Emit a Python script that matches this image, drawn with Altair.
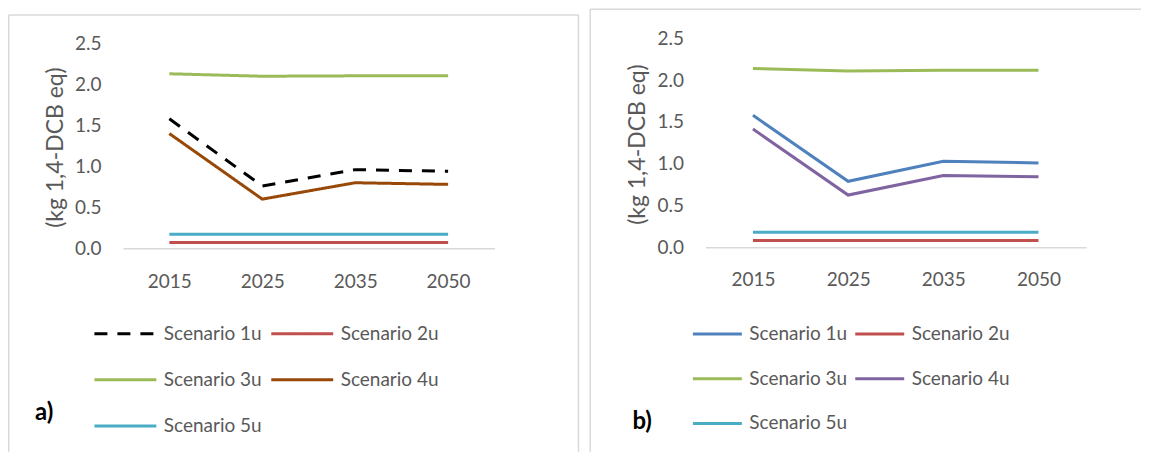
import altair as alt
import pandas as pd

years = ["2015", "2025", "2035", "2050"]
scenarios = ["Scenario 1u", "Scenario 2u", "Scenario 3u", "Scenario 4u", "Scenario 5u"]

# Panel a) values
a_s1 = [1.58, 0.76, 0.96, 0.94]
a_s2 = [0.07, 0.07, 0.07, 0.07]
a_s3 = [2.13, 2.10, 2.105, 2.105]
a_s4 = [1.40, 0.60, 0.80, 0.78]
a_s5 = [0.17, 0.17, 0.17, 0.17]

# Panel b) values
b_s1 = [1.58, 0.79, 1.03, 1.01]
b_s2 = [0.08, 0.08, 0.08, 0.08]
b_s3 = [2.14, 2.11, 2.12, 2.12]
b_s4 = [1.415, 0.625, 0.86, 0.845]
b_s5 = [0.18, 0.18, 0.18, 0.18]

y_ticks = [0.0, 0.5, 1.0, 1.5, 2.0, 2.5]
y_title = "(kg 1,4-DCB eq)"

colors_a = ["#000000", "#C0504D", "#9BBB59", "#984807", "#4BACC6"]
colors_b = ["#4F81BD", "#C0504D", "#9BBB59", "#8064A2", "#4BACC6"]
dashes_a = [[13, 10], [1, 0], [1, 0], [1, 0], [1, 0]]

FONT = "Lato"
GREY = "#595959"
BORDER = "#d9d9d9"
H = 444


def long_table(series):
    rows = []
    for name, vals in zip(scenarios, series):
        for yr, v in zip(years, vals):
            rows.append({"Year": yr, "Scenario": name, "Value": v})
    return pd.DataFrame(rows)


def seg(one, x1, y1, x2, y2):
    return alt.Chart(one).mark_rule(stroke=BORDER, strokeWidth=1.5).encode(
        x=alt.value(x1), y=alt.value(y1), x2=alt.value(x2), y2=alt.value(y2))


def panel(series, colors, dashes, W, xr, yr, ylab_x, title_xy, xlab_pad,
          leg_xy, sym_len, row_pad, col_pad, tag, tag_xy, borders):
    df = long_table(series)
    leg = alt.Legend(
        orient="none", legendX=leg_xy[0], legendY=leg_xy[1], columns=2,
        direction="horizontal",
        symbolType="stroke", symbolSize=sym_len ** 2, symbolStrokeWidth=3,
        labelFont=FONT, labelFontSize=19, labelColor=GREY, title=None,
        rowPadding=row_pad, columnPadding=col_pad, labelOffset=6, padding=0,
    )
    enc = dict(
        x=alt.X("Year:N", sort=years,
                scale=alt.Scale(type="point", range=xr, padding=0.5),
                axis=alt.Axis(title=None, orient="bottom", offset=-(H - yr[0]),
                              ticks=False, labelPadding=xlab_pad, labelBaseline="middle",
                              domainColor=BORDER, domainWidth=1.5, labelAngle=0,
                              grid=False)),
        y=alt.Y("Value:Q",
                scale=alt.Scale(domain=[0, 2.5], range=[yr[0], yr[1]], nice=False),
                axis=alt.Axis(title=y_title, values=y_ticks, format=".1f", orient="left",
                              offset=-ylab_x, ticks=False, labelPadding=0, domain=False,
                              grid=False, titleX=title_xy[0] - ylab_x, titleY=title_xy[1],
                              titleAlign="center", titleBaseline="middle", titleAngle=270)),
        color=alt.Color("Scenario:N", scale=alt.Scale(domain=scenarios, range=colors),
                        legend=leg),
    )
    if dashes is not None:
        enc["strokeDash"] = alt.StrokeDash("Scenario:N",
                                           scale=alt.Scale(domain=scenarios, range=dashes),
                                           legend=leg)
    lines = alt.Chart(df).mark_line(strokeWidth=3).encode(**enc)

    one = pd.DataFrame({"k": [0]})
    frame = [seg(one, *b) for b in borders]
    label = alt.Chart(one).mark_text(
        text=tag, font=FONT, fontSize=24, fontWeight="bold", color="#000000",
        align="left", baseline="middle").encode(x=alt.value(tag_xy[0]), y=alt.value(tag_xy[1]))
    return alt.layer(*frame, lines, label).properties(width=W, height=H)


pa = panel([a_s1, a_s2, a_s3, a_s4, a_s5], colors_a, dashes_a, 582,
           [115, 487], [240.3, 35.3], 93, (48, 139), 33,
           (85, 293), 62, 3.3, 3, "a)", (27, 405),
           [(0.75, 6.7, 0.75, 444), (0.75, 6.7, 571, 6.7), (571, 6.7, 571, 444)])
pb = panel([b_s1, b_s2, b_s3, b_s4, b_s5], colors_b, None, 552,
           [116, 497], [239.3, 30.3], 94, (48.5, 136), 32,
           (102, 300), 49, 8.8, 1.5, "b)", (43, 413.7),
           [(0.75, 1, 0.75, 444), (0.75, 1, 552, 1)])

chart = alt.hconcat(pa, pb, spacing=0).resolve_scale(
    color="independent", strokeDash="independent"
).resolve_legend(
    color="independent", strokeDash="independent"
).properties(padding=0).configure_view(
    stroke=None
).configure_axis(
    labelFont=FONT, labelFontSize=19, labelColor=GREY,
    titleFont=FONT, titleFontSize=23, titleColor=GREY, titleFontWeight="normal",
)

chart.save("out.html", embed_options={"renderer": "svg", "actions": False})
